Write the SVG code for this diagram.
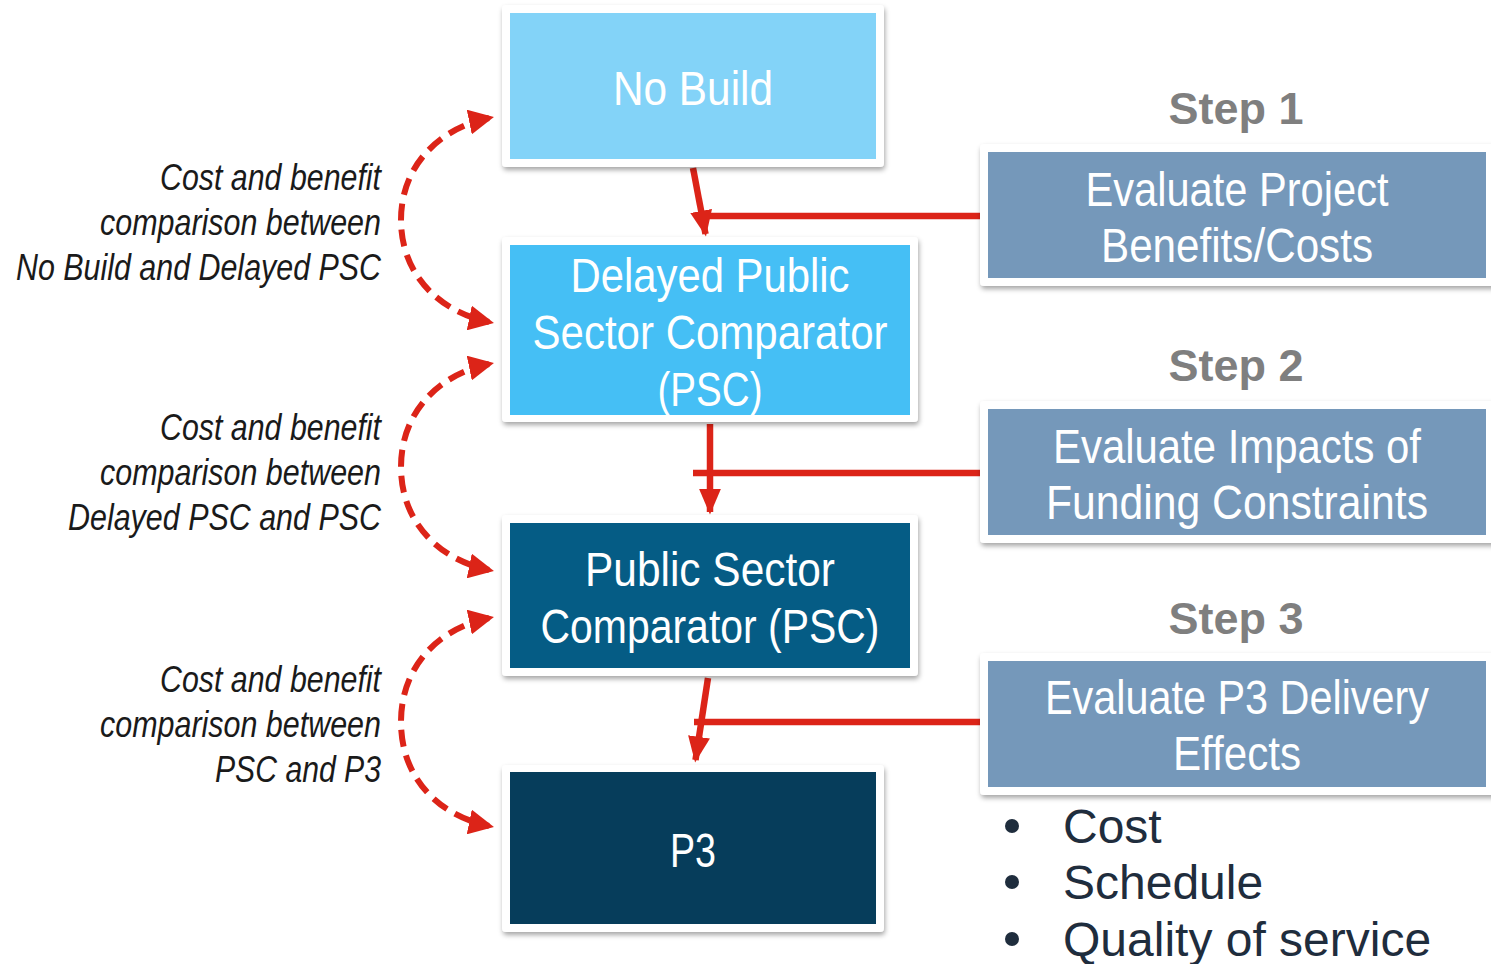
<svg xmlns="http://www.w3.org/2000/svg" width="1491" height="964" viewBox="0 0 1491 964">
<defs>
<filter id="sh" x="-5%" y="-5%" width="115%" height="120%">
<feDropShadow dx="1" dy="3" stdDeviation="2.5" flood-color="#000" flood-opacity="0.35"/>
</filter>
<marker id="ah" viewBox="0 0 10 10" refX="9" refY="5" markerWidth="4" markerHeight="3.4" orient="auto" markerUnits="strokeWidth" preserveAspectRatio="none">
<path d="M0,0 L10,5 L0,10 z" fill="#DC2418"/>
</marker>
<marker id="ah2" viewBox="0 0 10 10" refX="8" refY="5" markerWidth="4.2" markerHeight="4.2" orient="auto-start-reverse" markerUnits="strokeWidth">
<path d="M0,0 L10,5 L0,10 z" fill="#DC2418"/>
</marker>
</defs>
<style>
.frame{fill:#fff;filter:url(#sh)}
.bt{font-family:"Liberation Sans",Arial,sans-serif;font-size:48px;fill:#fff;text-anchor:middle}
.lbl{font-family:"Liberation Sans",Arial,sans-serif;font-style:italic;font-size:36px;fill:#1a1a1a;text-anchor:end}
.step{font-family:"Liberation Sans",Arial,sans-serif;font-weight:bold;font-size:45px;fill:#7f7f7f;text-anchor:middle}
.bul{font-family:"Liberation Sans",Arial,sans-serif;font-size:48px;fill:#1f2d3d}
.solid{stroke:#DC2418;stroke-width:6.5;fill:none}
.dash{stroke:#DC2418;stroke-width:6;fill:none;stroke-dasharray:17 9}
</style>
<rect width="1491" height="964" fill="#fff"/>

<g id="connectors">
<path class="solid" d="M980,216 H706"/>
<path class="solid" d="M693,168 L705.5,234" marker-end="url(#ah)"/>
<path class="solid" d="M980,473 H693"/>
<path class="solid" d="M710,424 V512" marker-end="url(#ah)"/>
<path class="solid" d="M980,722 H694"/>
<path class="solid" d="M708,678 L695.5,760" marker-end="url(#ah)"/>
<path class="dash" d="M489,118 C440,128 401,165 401,220 C401,275 440,312 489,322" marker-start="url(#ah2)" marker-end="url(#ah2)"/>
<path class="dash" d="M489,364 C440,374 401,411 401,467 C401,523 440,560 489,570" marker-start="url(#ah2)" marker-end="url(#ah2)"/>
<path class="dash" d="M489,618 C440,628 401,665 401,722 C401,779 440,816 489,826" marker-start="url(#ah2)" marker-end="url(#ah2)"/>
</g>

<g id="no-build">
<rect class="frame" x="502" y="5" width="382" height="162" rx="4"/>
<rect x="510" y="13" width="366" height="146" fill="#83D3F8"/>
<text class="bt" x="693" y="105" textLength="160" lengthAdjust="spacingAndGlyphs">No Build</text>
</g>

<g id="delayed-psc">
<rect class="frame" x="502" y="237" width="416" height="185" rx="4"/>
<rect x="510" y="245" width="400" height="170" fill="#45BFF5"/>
<text class="bt" x="710" y="292" textLength="279" lengthAdjust="spacingAndGlyphs">Delayed Public</text>
<text class="bt" x="710" y="349" textLength="355" lengthAdjust="spacingAndGlyphs">Sector Comparator</text>
<text class="bt" x="710" y="406" textLength="105" lengthAdjust="spacingAndGlyphs">(PSC)</text>
</g>

<g id="psc">
<rect class="frame" x="502" y="515" width="416" height="161" rx="4"/>
<rect x="510" y="523" width="400" height="145" fill="#055C85"/>
<text class="bt" x="710" y="586" textLength="250" lengthAdjust="spacingAndGlyphs">Public Sector</text>
<text class="bt" x="710" y="643" textLength="339" lengthAdjust="spacingAndGlyphs">Comparator (PSC)</text>
</g>

<g id="p3">
<rect class="frame" x="502" y="765" width="382" height="167" rx="4"/>
<rect x="510" y="772" width="366" height="152" fill="#063D5B"/>
<text class="bt" x="693" y="867" textLength="46" lengthAdjust="spacingAndGlyphs">P3</text>
</g>

<g id="step1">
<text class="step" x="1236" y="124">Step 1</text>
<rect class="frame" x="980" y="144" width="520" height="142" rx="4"/>
<rect x="988" y="152" width="498" height="126" fill="#7598BA"/>
<text class="bt" x="1237" y="206" textLength="303" lengthAdjust="spacingAndGlyphs">Evaluate Project</text>
<text class="bt" x="1237" y="262" textLength="272" lengthAdjust="spacingAndGlyphs">Benefits/Costs</text>
</g>

<g id="step2">
<text class="step" x="1236" y="381">Step 2</text>
<rect class="frame" x="980" y="401" width="520" height="142" rx="4"/>
<rect x="988" y="409" width="498" height="126" fill="#7598BA"/>
<text class="bt" x="1237" y="463" textLength="368" lengthAdjust="spacingAndGlyphs">Evaluate Impacts of</text>
<text class="bt" x="1237" y="519" textLength="382" lengthAdjust="spacingAndGlyphs">Funding Constraints</text>
</g>

<g id="step3">
<text class="step" x="1236" y="634">Step 3</text>
<rect class="frame" x="980" y="653" width="520" height="142" rx="4"/>
<rect x="988" y="661" width="498" height="126" fill="#7598BA"/>
<text class="bt" x="1237" y="714" textLength="384" lengthAdjust="spacingAndGlyphs">Evaluate P3 Delivery</text>
<text class="bt" x="1237" y="770" textLength="128" lengthAdjust="spacingAndGlyphs">Effects</text>
</g>

<g id="bullets">
<circle cx="1012" cy="826" r="7" fill="#1f2d3d"/>
<circle cx="1012" cy="882" r="7" fill="#1f2d3d"/>
<circle cx="1012" cy="939" r="7" fill="#1f2d3d"/>
<text class="bul" x="1063" y="843">Cost</text>
<text class="bul" x="1063" y="899">Schedule</text>
<text class="bul" x="1063" y="956">Quality of service</text>
</g>

<g id="labels">
<text class="lbl" x="381" y="190" textLength="221" lengthAdjust="spacingAndGlyphs">Cost and benefit</text>
<text class="lbl" x="381" y="235" textLength="281" lengthAdjust="spacingAndGlyphs">comparison between</text>
<text class="lbl" x="381" y="280" textLength="365" lengthAdjust="spacingAndGlyphs">No Build and Delayed PSC</text>
<text class="lbl" x="381" y="440" textLength="221" lengthAdjust="spacingAndGlyphs">Cost and benefit</text>
<text class="lbl" x="381" y="485" textLength="281" lengthAdjust="spacingAndGlyphs">comparison between</text>
<text class="lbl" x="381" y="530" textLength="313" lengthAdjust="spacingAndGlyphs">Delayed PSC and PSC</text>
<text class="lbl" x="381" y="692" textLength="221" lengthAdjust="spacingAndGlyphs">Cost and benefit</text>
<text class="lbl" x="381" y="737" textLength="281" lengthAdjust="spacingAndGlyphs">comparison between</text>
<text class="lbl" x="381" y="782" textLength="166" lengthAdjust="spacingAndGlyphs">PSC and P3</text>
</g>
</svg>
